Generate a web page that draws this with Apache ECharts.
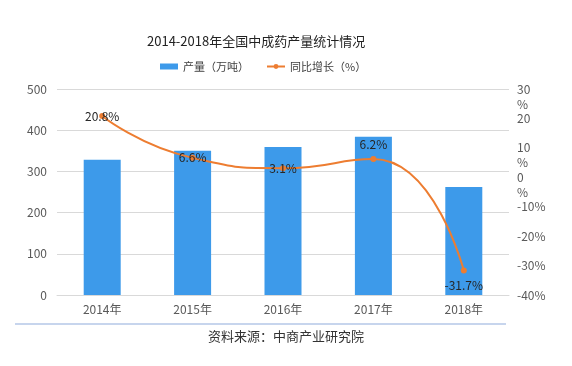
<!DOCTYPE html>
<html><head><meta charset="utf-8">
<script src="https://cdn.jsdelivr.net/npm/echarts@6/dist/echarts.min.js"></script>
<style>html,body{margin:0;padding:0;background:#fff}#c{width:572px;height:366px}</style>
</head><body><div id="c"></div>
<script>
var categories = ['2014年','2015年','2016年','2017年','2018年'];
var output = [328, 350, 359, 384, 262];
var growth = [20.8, 6.6, 3.1, 6.2, -31.7];
var labelPos = ['inside','inside','inside','top','bottom'];
var FONT = '"Noto Sans CJK SC","Noto Sans",sans-serif';
var chart = echarts.init(document.getElementById('c'));
var rightLabel = {fontSize:12,color:'#595959',margin:8,fontFamily:FONT,lineHeight:15,
  showMaxLabel:true,showMinLabel:true,hideOverlap:false};
chart.setOption({
  animation:false,
  textStyle:{fontFamily:FONT},
  title:{text:'2014-2018年全国中成药产量统计情况',left:147,top:35,padding:0,
    textStyle:{fontSize:13,fontWeight:'normal',color:'#222',fontFamily:FONT}},
  legend:{left:160,top:61,itemWidth:18,itemHeight:6,itemGap:17,padding:0,
    textStyle:{fontSize:11,color:'#404040',fontFamily:FONT},
    data:[{name:'产量（万吨）',icon:'rect'},{name:'同比增长（%）'}]},
  grid:{left:57,right:63,top:89,bottom:71,containLabel:false},
  xAxis:{type:'category',data:categories,
    axisLine:{lineStyle:{color:'#D9D9D9'}},axisTick:{show:false},
    axisLabel:{fontSize:12,color:'#595959',margin:8,fontFamily:FONT}},
  yAxis:[
    {type:'value',min:0,max:500,interval:100,
     axisLine:{show:false},axisTick:{show:false},
     splitLine:{lineStyle:{color:'#D9D9D9'}},
     axisLabel:{fontSize:12,color:'#595959',margin:10,fontFamily:FONT}},
    {type:'value',min:-40,max:30,interval:10,position:'right',
     axisLine:{show:false},axisTick:{show:false},splitLine:{show:false},
     axisLabel:Object.assign({},rightLabel,{
       formatter:function(v){return v>=0?(''+v):(v+'%');}})},
    {type:'value',min:-40,max:30,interval:10,position:'right',offset:0,
     axisLine:{show:false},axisTick:{show:false},splitLine:{show:false},
     axisLabel:Object.assign({},rightLabel,{
       formatter:function(v){return v>=0?'\n\n%':'';}})}
  ],
  series:[
    {name:'产量（万吨）',type:'bar',data:output,barWidth:37,
     itemStyle:{color:'#3D9AEA'}},
    {name:'同比增长（%）',type:'line',yAxisIndex:1,smooth:0.55,
     data:growth.map(function(v,i){return {value:v,label:{position:labelPos[i]}};}),
     symbol:'circle',symbolSize:6,
     lineStyle:{color:'#ED7D31',width:2},itemStyle:{color:'#ED7D31'},
     label:{show:true,fontSize:12,color:'#262626',fontFamily:FONT,distance:6,
       formatter:function(p){return p.value+'%';}}}
  ],
  graphic:[
    {type:'line',shape:{x1:15,y1:324,x2:506,y2:324},style:{stroke:'#B4C7E7',lineWidth:1.5}},
    {type:'text',left:'center',top:330,style:{text:'资料来源：中商产业研究院',
      font:'13px "Noto Sans CJK SC"',fill:'#333'},x:-37}
  ]
});
</script></body></html>
